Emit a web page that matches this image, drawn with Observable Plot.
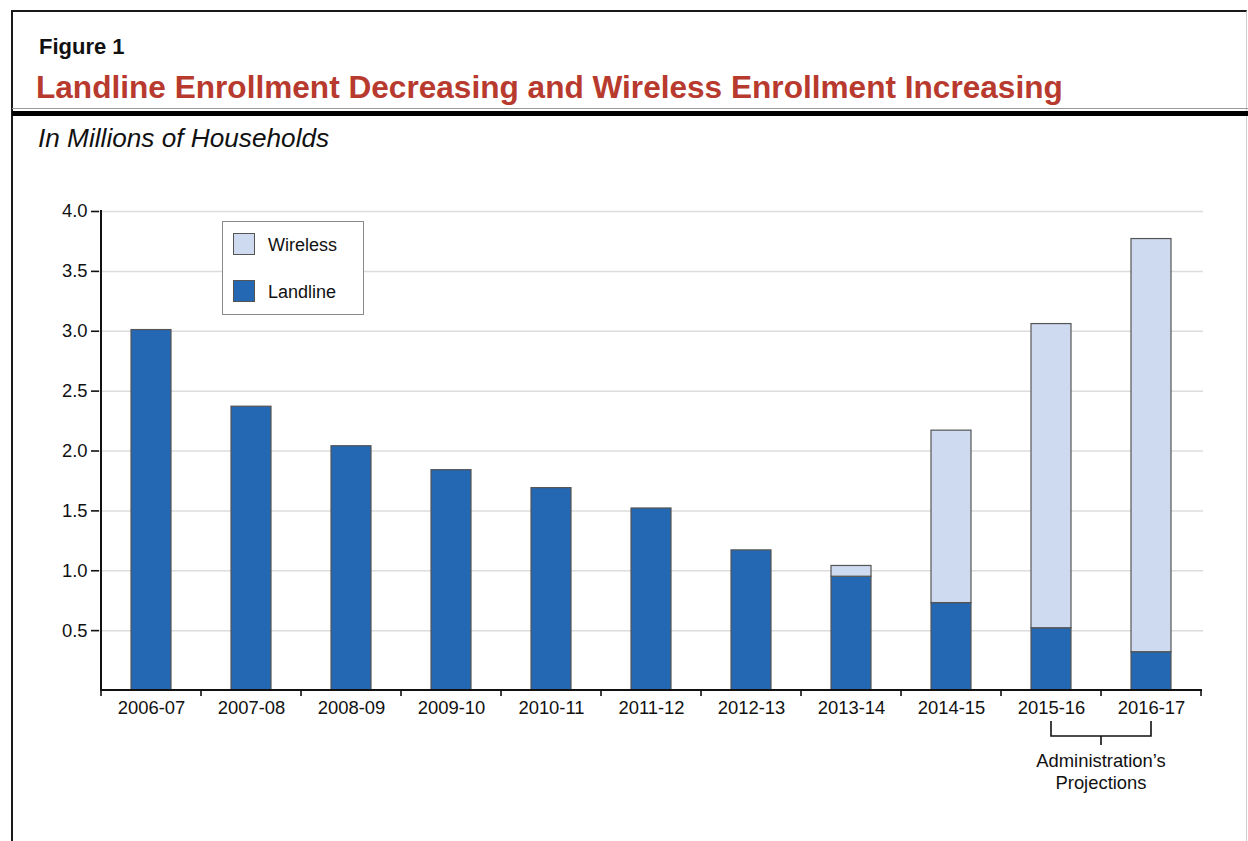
<!DOCTYPE html>
<html>
<head>
<meta charset="utf-8">
<script src="https://cdn.jsdelivr.net/npm/d3@7"></script>
<script src="https://cdn.jsdelivr.net/npm/@observablehq/plot@0.6"></script>
<style>
  html, body { margin: 0; padding: 0; background: #fff; width: 1248px; height: 841px; overflow: hidden;
    font-family: "Liberation Sans", Arial, Helvetica, sans-serif; color: #111; }
  #frame { position: absolute; left: 11px; top: 10px; width: 1236px; height: 840px; box-sizing: border-box;
    border-left: 2px solid #1a1a1a; border-top: 2px solid #1a1a1a; border-right: 1px solid #cfcfcf; }
  #fig { position: absolute; left: 39px; top: 36px; font-size: 22px; line-height: 22px; font-weight: bold; color: #111; white-space: nowrap; }
  #title { position: absolute; left: 36px; top: 72px; font-size: 31.6px; line-height: 31.6px; font-weight: bold; color: #b83a2e; white-space: nowrap; }
  #thin { position: absolute; left: 12px; width: 1236px; top: 108px; height: 1px; background: #9a9a9a; }
  #thick { position: absolute; left: 12px; width: 1236px; top: 111px; height: 5px; background: #000; }
  #subtitle { position: absolute; left: 38px; top: 125px; font-size: 26.2px; line-height: 26.2px; font-style: italic; color: #111; white-space: nowrap; }
  #chart { position: absolute; left: 0; top: 170px; }
  #legend { position: absolute; left: 222px; top: 221px; width: 142px; height: 94px; box-sizing: border-box;
    border: 1.5px solid #8a8a8a; background: #fff; }
  .sw { position: absolute; left: 10px; width: 22px; height: 22px; box-sizing: border-box; border: 1px solid #555; }
  .lt { position: absolute; left: 45px; font-size: 18px; line-height: 18px; color: #111; white-space: nowrap; }
</style>
</head>
<body>
<div id="frame"></div>
<div id="fig"></div>
<div id="title"></div>
<div id="thin"></div>
<div id="thick"></div>
<div id="subtitle"></div>
<div id="chart"></div>
<div id="legend"></div>
<script>
// ---- Data ----
const years = ["2006-07", "2007-08", "2008-09", "2009-10", "2010-11", "2011-12",
               "2012-13", "2013-14", "2014-15", "2015-16", "2016-17"];
const landline = [3.01, 2.37, 2.04, 1.84, 1.69, 1.52, 1.17, 0.95, 0.73, 0.52, 0.32];
const wireless = [0, 0, 0, 0, 0, 0, 0, 0.09, 1.44, 2.54, 3.45];
const seriesNames = ["Landline", "Wireless"];
const seriesColors = ["#2467b2", "#cddaf0"];
const yTicks = [0.5, 1.0, 1.5, 2.0, 2.5, 3.0, 3.5, 4.0];
const projectionYears = ["2015-16", "2016-17"];
const projectionLabel = ["Administration\u2019s", "Projections"];
const figureLabel = "Figure 1";
const titleText = "Landline Enrollment Decreasing and Wireless Enrollment Increasing";
const subtitleText = "In Millions of Households";

document.getElementById("fig").textContent = figureLabel;
document.getElementById("title").textContent = titleText;
document.getElementById("subtitle").textContent = subtitleText;

// tidy table built from the arrays (landline first => stacked at bottom)
const table = [];
years.forEach((yr, i) => {
  table.push({year: yr, type: seriesNames[0], value: landline[i]});
  table.push({year: yr, type: seriesNames[1], value: wireless[i]});
});
const shown = table.filter(d => d.value > 0);

// custom mark: axis lines, boundary ticks, projection bracket
function axesAndBracket(index, scales, values, dims) {
  const sx = scales.x, sy = scales.y;
  const bw = typeof sx.bandwidth === "function" ? sx.bandwidth() : sx.bandwidth;
  const step = sx(years[1]) - sx(years[0]);
  const half = (step - bw) / 2;
  const y0 = sy(0);
  const bounds = years.map(c => sx(c) - half).concat([sx(years[years.length - 1]) + bw + half]);
  const g = d3.create("svg:g");
  g.selectAll("line.bt").data(bounds).join("line")
    .attr("x1", d => d).attr("x2", d => d).attr("y1", y0).attr("y2", y0 + 6)
    .attr("stroke", "#111").attr("stroke-width", 1.6);
  g.append("line").attr("x1", bounds[0] - 1).attr("x2", bounds[bounds.length - 1] + 1)
    .attr("y1", y0).attr("y2", y0).attr("stroke", "#111").attr("stroke-width", 2);
  g.append("line").attr("x1", bounds[0]).attr("x2", bounds[0])
    .attr("y1", sy(4) - 1).attr("y2", y0 + 1).attr("stroke", "#111").attr("stroke-width", 2);
  const c1 = sx(projectionYears[0]) + bw / 2;
  const c2 = sx(projectionYears[1]) + bw / 2;
  const mid = (c1 + c2) / 2;
  const top = y0 + 31, bot = y0 + 46;
  g.append("path")
    .attr("d", `M${c1},${top}V${bot}H${c2}V${top}M${mid},${bot}V${bot + 9}`)
    .attr("fill", "none").attr("stroke", "#111").attr("stroke-width", 1.6);
  const t = g.append("text").attr("text-anchor", "middle").attr("fill", "#111")
    .attr("font-size", "18.4px");
  projectionLabel.forEach((s, i) => {
    t.append("tspan").attr("x", mid).attr("y", y0 + 77 + i * 21.5).text(s);
  });
  return g.node();
}

const plot = Plot.plot({
  width: 1248,
  height: 671,
  marginTop: 41,
  marginBottom: 151,
  marginLeft: 99,
  marginRight: 45,
  style: {fontFamily: "'Liberation Sans', Arial, Helvetica, sans-serif", fontSize: "18.4px", color: "#111", background: "transparent"},
  x: {domain: years, paddingInner: 0.6, paddingOuter: 0.3, align: 0.5, label: null},
  y: {domain: [0, 4], label: null},
  color: {domain: seriesNames, range: seriesColors},
  marks: [
    Plot.gridY(yTicks, {stroke: "#dcdcdc", strokeOpacity: 1, strokeWidth: 1.5}),
    Plot.barY(shown, {x: "year", y: "value", fill: "type", stroke: "#555", strokeWidth: 1.2, inset: 0}),
    Plot.axisY(yTicks, {tickFormat: d3.format(".1f"), tickSize: 8, tickPadding: 4, strokeWidth: 1.6, label: null}),
    Plot.axisX({tickSize: 0, tickPadding: 10, label: null}),
    axesAndBracket
  ]
});
document.getElementById("chart").appendChild(plot);

// legend (Wireless on top, Landline below)
const legend = document.getElementById("legend");
[[seriesNames[1], seriesColors[1], 11], [seriesNames[0], seriesColors[0], 58]].forEach(([name, col, top]) => {
  const sw = document.createElement("div");
  sw.className = "sw"; sw.style.top = top + "px"; sw.style.background = col;
  legend.appendChild(sw);
  const lt = document.createElement("div");
  lt.className = "lt"; lt.style.top = (top + 3) + "px"; lt.textContent = name;
  legend.appendChild(lt);
});
</script>
</body>
</html>
